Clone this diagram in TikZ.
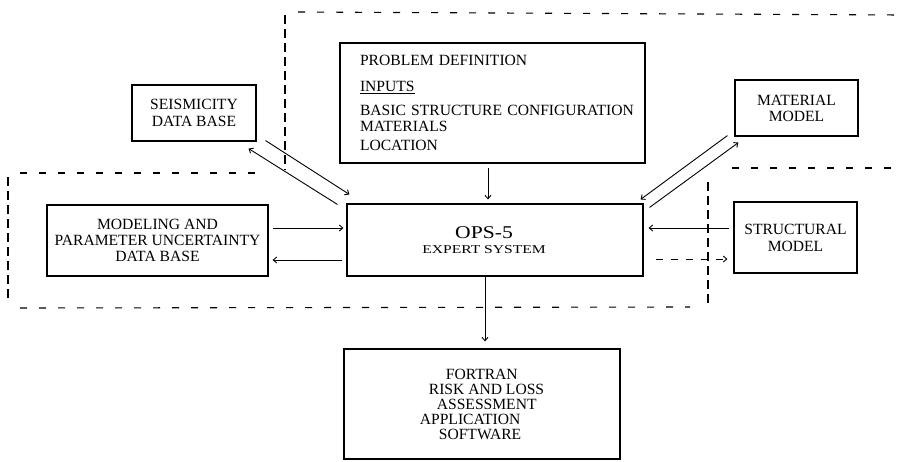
\documentclass[tikz,border=0pt]{standalone}
\usepackage{fontspec}
\setmainfont{Liberation Serif}
\usetikzlibrary{arrows.meta,calc}
\newcommand\txtfont{\fontsize{15.6}{16}\selectfont}
\begin{document}
\begin{tikzpicture}[x=1pt,y=-1pt,
  box/.style={draw, line width=1.1pt, inner sep=0pt, align=center, font=\txtfont},
  arr/.style={line width=0.9pt, -{Straight Barb[length=3.5pt,width=6pt]}},
  hdash/.style={line width=1.1pt, dash pattern=on 7pt off 12pt},
  vdash/.style={line width=1.1pt, dash pattern=on 9pt off 5pt}]
\useasboundingbox (0,0) rectangle (902,461);

% boxes
\node[box, minimum width=124pt, minimum height=56pt] (seis) at (194,113)
  {SEISMICITY\\[1pt] DATA BASE};
\node[box, minimum width=305pt, minimum height=120pt, text width=265pt, align=left] (prob) at (492.5,103)
  {PROBLEM DEFINITION\\[10pt]
   \underline{INPUTS}\\[8pt]
   \mbox{BASIC STRUCTURE CONFIGURATION}\\
   MATERIALS\\[3pt]
   LOCATION};
\node[box, minimum width=123pt, minimum height=56pt] (mat) at (796.5,108)
  {MATERIAL\\ MODEL};
\node[box, minimum width=221pt, minimum height=71pt] (modl) at (157.5,240.5)
  {MODELING AND\\ PARAMETER UNCERTAINTY\\ DATA BASE};
\node[box, minimum width=296pt, minimum height=72pt] (ops) at (495,240)
  {{\fontsize{18}{18}\addfontfeature{FakeStretch=1.2}OPS-5}\hspace*{22pt}\\[-1pt]
   {\fontsize{12}{14}\addfontfeature{FakeStretch=1.3}EXPERT SYSTEM}\hspace*{22pt}};
\node[box, minimum width=123pt, minimum height=71pt] (str) at (795.5,237.5)
  {STRUCTURAL\\[1pt] MODEL};
\node[box, minimum width=276pt, minimum height=110pt, align=left, font=\fontsize{15.6}{15}\selectfont] (fort) at (482,404)
  {\hspace*{26pt}FORTRAN\\
   \hspace*{9pt}RISK AND LOSS\\
   \hspace*{17pt}ASSESSMENT\\
   APPLICATION\\
   \hspace*{19pt}SOFTWARE};

% dashed region outlines
\draw[hdash] (298,12) -- (902,15);
\draw[vdash] (285,15) -- (285,170);
\draw[hdash] (732,168) -- (902,168);
\draw[hdash] (20,173) -- (262,173);
\draw[vdash] (8,177) -- (8,300);
\draw[hdash] (20,308) -- (690,307);
\draw[vdash] (708,182) -- (708,305);

% connectors
\draw[arr] ($(seis.south east)+(9,-1)$) -- ($(ops.north west)+(3,-9)$);
\draw[arr] ($(ops.north west)+(-9,1)$) -- ($(seis.south east)+(-8,7)$);
\draw[arr] ($(mat.south west)+(-7,-1)$) -- ($(ops.north east)+(-3,-4)$);
\draw[arr] ($(ops.north east)+(6,4)$) -- ($(mat.south west)+(4,6)$);
\draw[arr] ($(modl.east)+(4,-12.5)$) -- ($(ops.west)+(-3,-12)$);
\draw[arr] ($(ops.west)+(-4,20)$) -- ($(modl.east)+(4,19.5)$);
\draw[arr] ($(prob.south)+(-4.5,4)$) -- ($(ops.north)+(-7,-4)$);
\draw[arr] ($(ops.south)+(-10,0)$) -- ($(fort.north)+(3,-7)$);
\draw[arr] ($(str.west)+(-4,-9.5)$) -- ($(ops.east)+(5,-12)$);
\draw[arr, dash pattern=on 7pt off 8pt] ($(ops.east)+(12,19)$) -- ($(str.west)+(-6,21.5)$);
\end{tikzpicture}
\end{document}
